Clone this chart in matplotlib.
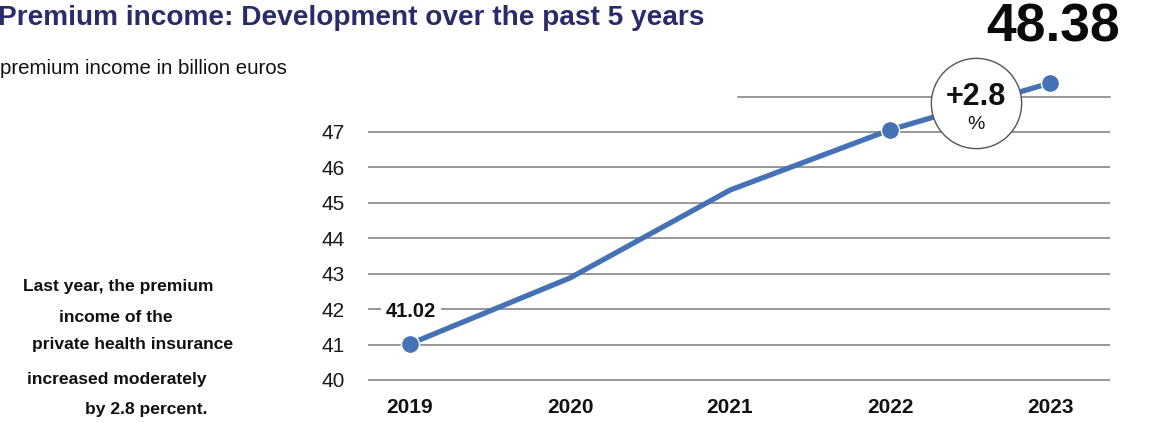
import matplotlib
matplotlib.use("Agg")
import matplotlib.pyplot as plt

years = [2019, 2020, 2021, 2022, 2023]
premium = [41.02, 42.88, 45.36, 47.06, 48.38]
marked_years = [2019, 2022, 2023]
y_ticks = [40, 41, 42, 43, 44, 45, 46, 47]
growth_label = "+2.8"
title = "Premium income: Development over the past 5 years"
subtitle = "premium income in billion euros"
side_text = ["Last year, the premium", "income of the", "private health insurance",
             "increased moderately", "by 2.8 percent."]

plt.rcParams['font.family'] = ['Liberation Sans', 'DejaVu Sans']

W, H = 1150, 423
fig = plt.figure(figsize=(W / 100, H / 100), dpi=100)
fig.patch.set_facecolor('white')

def fx(px):
    return px / W

def fy(py):
    return 1 - py / H

ax = fig.add_axes([fx(368), fy(397.7), fx(1110) - fx(368), fy(75.3) - fy(397.7)])
ax.set_xlim(2018.7375, 2023.375)
ax.set_ylim(39.5, 48.6)
for s in ax.spines.values():
    s.set_visible(False)
ax.set_facecolor('none')

line_color = '#4472b4'
grid_color = '#7a7a7a'

for v in y_ticks:
    ax.axhline(v, color=grid_color, lw=1.1, zorder=1)
# upper partial gridline (48)
ax.plot([2021.05, 2023.375], [48, 48], color=grid_color, lw=1.1, zorder=1, clip_on=False)

ax.set_yticks(y_ticks)
ax.set_yticklabels([str(v) for v in y_ticks], fontsize=15, color='#1a1a1a')
ax.tick_params(axis='y', length=0, pad=17)
ax.set_xticks(years)
ax.set_xticklabels([str(y) for y in years], fontsize=15, fontweight='bold', color='#111111')
ax.tick_params(axis='x', length=0, pad=0)

ax.plot(years, premium, color=line_color, lw=3.8, zorder=3, solid_capstyle='round')
mx = [years[years.index(y)] for y in marked_years]
my = [premium[years.index(y)] for y in marked_years]
ax.plot(mx, my, 'o', color=line_color, ms=13, mec='white', mew=1.0, zorder=4, clip_on=False)

# value label for first point
ax.text(years[0] + 0.006, 41.92, f"{premium[0]:.2f}", fontsize=14.5, fontweight='bold',
        ha='center', va='center', color='#111111', zorder=5,
        bbox=dict(boxstyle='square,pad=0.25', fc='white', ec='none'))

# growth circle
cx, cy = 2022.5375, 47.82
ax.plot([cx], [cy], 'o', ms=65, mfc='white', mec='#555555', mew=1.0, zorder=6, clip_on=False)
ax.text(cx, cy + 0.17, growth_label, fontsize=22, fontweight='bold', ha='center', va='center',
        color='#111111', zorder=7)
ax.text(cx, cy - 0.6, "%", fontsize=14, ha='center', va='center', color='#111111', zorder=7)

# titles
fig.text(fx(-2), fy(18), title, fontsize=20.2, fontweight='bold', color='#2b2b6b',
         ha='left', va='center')
fig.text(fx(0), fy(68), subtitle, fontsize=14.7, color='#111111', ha='left', va='center')
fig.text(fx(1120), fy(27), f"{premium[-1]:.2f}", fontsize=38.5, fontweight='bold',
         color='#0a0a0a', ha='right', va='center')

# side text
pos = [(23, 287), (59, 318), (32, 344), (27, 379), (85, 409)]
for (px, py), t in zip(pos, side_text):
    fig.text(fx(px), fy(py), t, fontsize=12.6, fontweight='bold', color='#111111',
             ha='left', va='center')

fig.savefig('out.png', dpi=100, facecolor='white')
